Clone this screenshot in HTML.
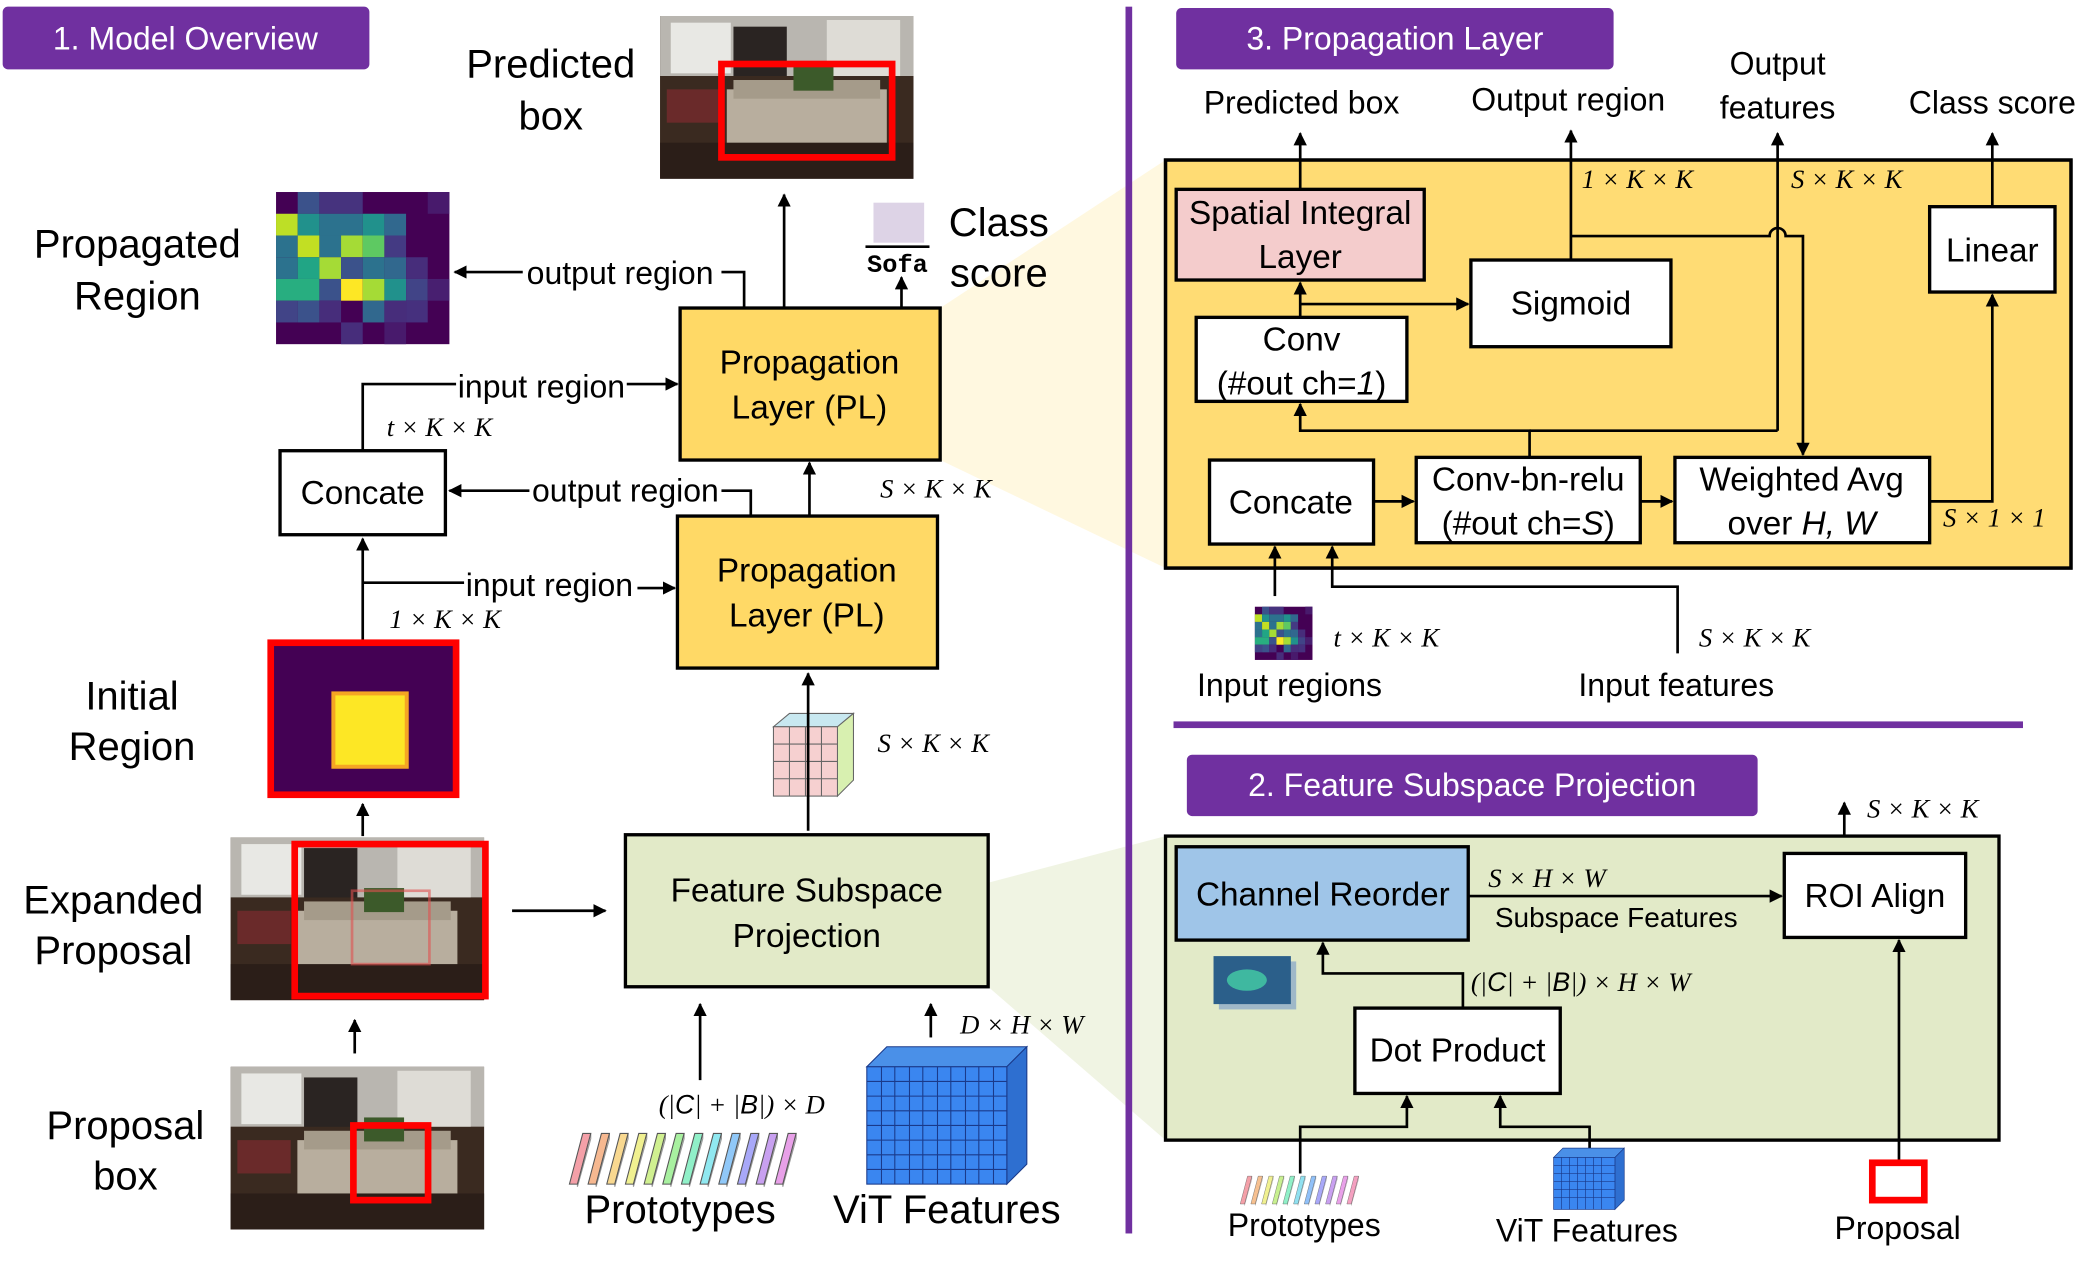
<!DOCTYPE html>
<html><head><meta charset="utf-8"><style>
html,body{margin:0;padding:0;background:#fff;}
svg{display:block;}
text{font-family:"Liberation Sans",Arial,sans-serif;fill:#000;}
.m{font-family:"Liberation Serif",serif;font-style:italic;font-size:20px;}
.b{font-size:25px;text-anchor:middle;}
.L{font-size:30px;text-anchor:middle;}
.s{font-size:24px;}
.w{fill:#fff;font-size:24px;text-anchor:middle;}
</style></head><body>
<svg width="2091" height="1278" viewBox="0 0 1568 958.4" preserveAspectRatio="none" xmlns="http://www.w3.org/2000/svg">
<defs>
<marker id="a" viewBox="0 0 10 10" refX="9" refY="5" markerWidth="5" markerHeight="5" orient="auto"><path d="M0,0 L10,5 L0,10 z" fill="#000"/></marker>
<g id="hm">
<rect width="8" height="7" fill="#440154"/>
<rect x="1" y="0" width="1" height="1" fill="#3b528b"/><rect x="2" y="0" width="2" height="1" fill="#46337e"/><rect x="7" y="0" width="1" height="1" fill="#481a6c"/>
<rect x="0" y="1" width="1" height="1" fill="#bddf26"/><rect x="1" y="1" width="1" height="1" fill="#21918c"/><rect x="2" y="1" width="2" height="1" fill="#2c728e"/><rect x="4" y="1" width="1" height="1" fill="#21918c"/><rect x="5" y="1" width="1" height="1" fill="#31688e"/>
<rect x="0" y="2" width="1" height="1" fill="#2c728e"/><rect x="1" y="2" width="1" height="1" fill="#c2df23"/><rect x="2" y="2" width="1" height="1" fill="#2c728e"/><rect x="3" y="2" width="1" height="1" fill="#a5db36"/><rect x="4" y="2" width="1" height="1" fill="#5ec962"/><rect x="5" y="2" width="1" height="1" fill="#443a83"/>
<rect x="0" y="3" width="1" height="1" fill="#2c728e"/><rect x="1" y="3" width="1" height="1" fill="#21a585"/><rect x="2" y="3" width="1" height="1" fill="#a5db36"/><rect x="3" y="3" width="1" height="1" fill="#3b528b"/><rect x="4" y="3" width="1" height="1" fill="#2c728e"/><rect x="5" y="3" width="1" height="1" fill="#31688e"/><rect x="6" y="3" width="1" height="1" fill="#472d7b"/>
<rect x="0" y="4" width="2" height="1" fill="#28ae80"/><rect x="2" y="4" width="1" height="1" fill="#3b528b"/><rect x="3" y="4" width="1" height="1" fill="#fde725"/><rect x="4" y="4" width="1" height="1" fill="#a5db36"/><rect x="5" y="4" width="1" height="1" fill="#21918c"/><rect x="6" y="4" width="1" height="1" fill="#414487"/><rect x="7" y="4" width="1" height="1" fill="#481f70"/>
<rect x="0" y="5" width="1" height="1" fill="#414487"/><rect x="1" y="5" width="1" height="1" fill="#3b528b"/><rect x="2" y="5" width="1" height="1" fill="#472d7b"/><rect x="4" y="5" width="1" height="1" fill="#31688e"/><rect x="5" y="5" width="1" height="1" fill="#472d7b"/><rect x="6" y="5" width="1" height="1" fill="#46307e"/>
<rect x="3" y="6" width="1" height="1" fill="#472d7b"/><rect x="5" y="6" width="1" height="1" fill="#481a6c"/>
</g>
<g id="room">
<rect width="190" height="122" fill="#4a3a30"/>
<rect x="0" y="0" width="190" height="45" fill="#b9b6b0"/>
<rect x="8" y="5" width="45" height="38" fill="#e8e8e4"/>
<rect x="125" y="3" width="55" height="48" fill="#dedcd6"/>
<rect x="55" y="8" width="40" height="45" fill="#2a2422"/>
<rect x="0" y="45" width="190" height="77" fill="#3a2a20"/>
<rect x="50" y="55" width="120" height="45" fill="#b8ae9e"/>
<rect x="55" y="48" width="110" height="14" fill="#a59b8a"/>
<rect x="5" y="55" width="40" height="25" fill="#6a2a2a"/>
<rect x="0" y="95" width="190" height="27" fill="#2b1e18"/>
<rect x="100" y="38" width="30" height="18" fill="#3c5a2a"/>
</g>
<g id="bar"><polygon points="0,38 10,0 16,0 6,38" /><polygon points="6,38 16,0 16,4 6,40" opacity="0.6"/></g>
</defs>

<!-- fans -->
<polygon points="705,231 874,120 874,426 705,345" fill="#fff6d8" opacity="0.8"/>
<polygon points="741,662 874,627 874,855 741,740" fill="#eef3e0" opacity="0.9"/>

<!-- section headers -->
<rect x="2" y="5" width="275" height="47" rx="4" fill="#7030a0"/>
<text x="139" y="37" class="w">1. Model Overview</text>
<rect x="844" y="5" width="5" height="920" fill="#7030a0"/>
<rect x="882" y="6" width="328" height="46" rx="4" fill="#7030a0"/>
<text x="1046" y="37" class="w">3. Propagation Layer</text>
<rect x="880" y="541" width="637" height="5" fill="#7030a0"/>
<rect x="890" y="566" width="428" height="46" rx="4" fill="#7030a0"/>
<text x="1104" y="597" class="w">2. Feature Subspace Projection</text>

<!-- LEFT -->
<use href="#room" x="495" y="12"/>
<rect x="541" y="48" width="128" height="70" fill="none" stroke="#f00" stroke-width="5"/>
<text x="413" y="58" class="L">Predicted</text><text x="413" y="97" class="L">box</text>

<use href="#hm" transform="translate(207,144) scale(16.25,16.3)"/>
<text x="103" y="193" class="L">Propagated</text><text x="103" y="232" class="L">Region</text>

<polyline points="558,231 558,204 541,204" fill="none" stroke="#000" stroke-width="2"/>
<line x1="392" y1="204" x2="341" y2="204" stroke="#000" stroke-width="2" marker-end="url(#a)"/>
<text x="465" y="213" class="s" text-anchor="middle">output region</text>

<rect x="655" y="152" width="38" height="30" fill="#ddd3e6"/>
<line x1="649" y1="185" x2="697" y2="185" stroke="#000" stroke-width="2"/>
<text x="673" y="204" font-size="19" font-weight="bold" text-anchor="middle" style="font-family:'Liberation Mono',monospace">Sofa</text>
<line x1="676" y1="231" x2="676" y2="208" stroke="#000" stroke-width="2" marker-end="url(#a)"/>
<text x="749" y="177" class="L">Class</text><text x="749" y="215" class="L">score</text>
<line x1="588" y1="231" x2="588" y2="146" stroke="#000" stroke-width="2" marker-end="url(#a)"/>

<rect x="510" y="231" width="195" height="114" fill="#ffd966" stroke="#000" stroke-width="2.5"/>
<text x="607" y="280" class="b">Propagation</text><text x="607" y="314" class="b">Layer (PL)</text>
<rect x="508" y="387" width="195" height="114" fill="#ffd966" stroke="#000" stroke-width="2.5"/>
<text x="605" y="436" class="b">Propagation</text><text x="605" y="470" class="b">Layer (PL)</text>
<line x1="607" y1="387" x2="607" y2="347" stroke="#000" stroke-width="2" marker-end="url(#a)"/>
<text x="660" y="373" class="m">S × K × K</text>

<rect x="210" y="338" width="124" height="63" fill="#fff" stroke="#000" stroke-width="2.5"/>
<text x="272" y="378" class="b">Concate</text>
<polyline points="272,338 272,288 342,288" fill="none" stroke="#000" stroke-width="2"/>
<line x1="470" y1="288" x2="508" y2="288" stroke="#000" stroke-width="2" marker-end="url(#a)"/>
<text x="406" y="298" class="s" text-anchor="middle">input region</text>
<text x="290" y="327" class="m">t × K × K</text>

<polyline points="563,387 563,368 541,368" fill="none" stroke="#000" stroke-width="2"/>
<line x1="397" y1="368" x2="337" y2="368" stroke="#000" stroke-width="2" marker-end="url(#a)"/>
<text x="469" y="376" class="s" text-anchor="middle">output region</text>

<line x1="272" y1="482" x2="272" y2="404" stroke="#000" stroke-width="2" marker-end="url(#a)"/>
<line x1="272" y1="437" x2="348" y2="437" stroke="#000" stroke-width="2"/>
<line x1="478" y1="441" x2="506" y2="441" stroke="#000" stroke-width="2" marker-end="url(#a)"/>
<text x="412" y="447" class="s" text-anchor="middle">input region</text>
<text x="292" y="471" class="m">1 × K × K</text>

<rect x="203" y="482" width="139" height="114" fill="#440154" stroke="#f00" stroke-width="5"/>
<rect x="250" y="520" width="55" height="55" fill="#fde725" stroke="#f5a623" stroke-width="3"/>
<text x="99" y="532" class="L">Initial</text><text x="99" y="570" class="L">Region</text>
<line x1="272" y1="627" x2="272" y2="603" stroke="#000" stroke-width="2" marker-end="url(#a)"/>

<use href="#room" x="173" y="628"/>
<rect x="264" y="668" width="58" height="55" fill="none" stroke="#e05050" stroke-width="2" opacity="0.6"/>
<rect x="221" y="633" width="143" height="114" fill="none" stroke="#f00" stroke-width="5"/>
<text x="85" y="685" class="L">Expanded</text><text x="85" y="723" class="L">Proposal</text>
<line x1="384" y1="683" x2="454" y2="683" stroke="#000" stroke-width="2" marker-end="url(#a)"/>
<line x1="266" y1="790" x2="266" y2="765" stroke="#000" stroke-width="2" marker-end="url(#a)"/>

<use href="#room" x="173" y="800"/>
<rect x="265" y="844" width="56" height="56" fill="none" stroke="#f00" stroke-width="5"/>
<text x="94" y="854" class="L">Proposal</text><text x="94" y="892" class="L">box</text>

<!-- small cube -->
<g stroke="#666" stroke-width="0.8">
<polygon points="580,545 592,535 640,535 628,545" fill="#c8e8f0"/>
<polygon points="628,545 640,535 640,585 628,597" fill="#d8f0b0"/>
<rect x="580" y="545" width="48" height="52" fill="#f6d0d0"/>
<path d="M592,545V597M604,545V597M616,545V597M580,558H628M580,571H628M580,584H628" fill="none"/>
</g>
<line x1="606" y1="623" x2="606" y2="505" stroke="#000" stroke-width="2" marker-end="url(#a)"/>
<text x="658" y="564" class="m">S × K × K</text>

<rect x="469" y="626" width="272" height="114" fill="#e2eac8" stroke="#000" stroke-width="2.5"/>
<text x="605" y="676" class="b">Feature Subspace</text><text x="605" y="710" class="b">Projection</text>
<line x1="525" y1="810" x2="525" y2="753" stroke="#000" stroke-width="2" marker-end="url(#a)"/>
<line x1="698" y1="778" x2="698" y2="753" stroke="#000" stroke-width="2" marker-end="url(#a)"/>
<text x="720" y="775" class="m">D × H × W</text>
<text x="494" y="835" class="m">(|<tspan font-family="Liberation Sans">C</tspan>| + |<tspan font-family="Liberation Sans">B</tspan>|) × D</text>

<!-- prototypes bars -->
<g stroke="#555" stroke-width="0.8">
<use href="#bar" x="427" y="850" fill="#f4a0a8"/><use href="#bar" x="441" y="850" fill="#f6b890"/><use href="#bar" x="455" y="850" fill="#f8d890"/><use href="#bar" x="469" y="850" fill="#f0f090"/><use href="#bar" x="483" y="850" fill="#d0f090"/><use href="#bar" x="497" y="850" fill="#a8f0a0"/><use href="#bar" x="511" y="850" fill="#90f0c8"/><use href="#bar" x="525" y="850" fill="#90e8f0"/><use href="#bar" x="539" y="850" fill="#90c8f8"/><use href="#bar" x="553" y="850" fill="#a8a8f8"/><use href="#bar" x="567" y="850" fill="#c8a0f0"/><use href="#bar" x="581" y="850" fill="#e8a0e8"/>
</g>
<text x="510" y="917" class="L">Prototypes</text>
<!-- ViT cube -->
<g stroke="#1a3a8a" stroke-width="0.8">
<polygon points="650,800 665,785 770,785 755,800" fill="#4a90e8"/>
<polygon points="755,800 770,785 770,873 755,888" fill="#2e6fd0"/>
<rect x="650" y="800" width="105" height="88" fill="#3a86f0"/>
<path d="M661,800V888M671,800V888M682,800V888M692,800V888M703,800V888M713,800V888M724,800V888M734,800V888M745,800V888M650,811H755M650,822H755M650,833H755M650,844H755M650,855H755M650,866H755M650,877H755" fill="none"/>
</g>
<text x="710" y="917" class="L">ViT Features</text>

<!-- PANEL 3 -->
<line x1="975" y1="142" x2="975" y2="100" stroke="#000" stroke-width="2" marker-end="url(#a)"/>
<line x1="1178" y1="196" x2="1178" y2="98" stroke="#000" stroke-width="2" marker-end="url(#a)"/>
<line x1="1333" y1="323" x2="1333" y2="100" stroke="#000" stroke-width="2" marker-end="url(#a)"/>
<line x1="1494" y1="155" x2="1494" y2="100" stroke="#000" stroke-width="2" marker-end="url(#a)"/>
<rect x="874" y="120" width="679" height="306" fill="#ffd966" opacity="0.9" stroke="#000" stroke-width="2.5"/>
<rect x="874" y="120" width="679" height="306" fill="none" stroke="#000" stroke-width="2.5"/>
<line x1="975" y1="120" x2="975" y2="142" stroke="#000" stroke-width="2"/>
<line x1="1178" y1="120" x2="1178" y2="196" stroke="#000" stroke-width="2"/>
<line x1="1333" y1="120" x2="1333" y2="323" stroke="#000" stroke-width="2"/>
<line x1="1494" y1="120" x2="1494" y2="155" stroke="#000" stroke-width="2"/>
<text x="976" y="85" class="s" text-anchor="middle">Predicted box</text>
<text x="1176" y="83" class="s" text-anchor="middle">Output region</text>
<text x="1333" y="56" class="s" text-anchor="middle">Output</text><text x="1333" y="89" class="s" text-anchor="middle">features</text>
<text x="1494" y="85" class="s" text-anchor="middle">Class score</text>
<text x="1186" y="141" class="m">1 × K × K</text>
<text x="1343" y="141" class="m">S × K × K</text>

<rect x="882" y="142" width="186" height="68" fill="#f4cccc" stroke="#000" stroke-width="2.5"/>
<text x="975" y="168" class="b">Spatial Integral</text><text x="975" y="201" class="b">Layer</text>
<rect x="1103" y="195" width="150" height="65" fill="#fff" stroke="#000" stroke-width="2.5"/>
<text x="1178" y="236" class="b">Sigmoid</text>
<rect x="897" y="238" width="158" height="63" fill="#fff" stroke="#000" stroke-width="2.5"/>
<text x="976" y="263" class="b">Conv</text><text x="976" y="296" class="b">(#out ch=<tspan font-style="italic">1</tspan>)</text>
<rect x="1447" y="155" width="94" height="64" fill="#fff" stroke="#000" stroke-width="2.5"/>
<text x="1494" y="196" class="b">Linear</text>
<rect x="907" y="345" width="123" height="63" fill="#fff" stroke="#000" stroke-width="2.5"/>
<text x="968" y="385" class="b">Concate</text>
<rect x="1062" y="343" width="168" height="64" fill="#fff" stroke="#000" stroke-width="2.5"/>
<text x="1146" y="368" class="b">Conv-bn-relu</text><text x="1146" y="401" class="b">(#out ch=<tspan font-style="italic">S</tspan>)</text>
<rect x="1256" y="343" width="191" height="64" fill="#fff" stroke="#000" stroke-width="2.5"/>
<text x="1351" y="368" class="b">Weighted Avg</text><text x="1351" y="401" class="b">over <tspan font-style="italic">H, W</tspan></text>

<line x1="975" y1="238" x2="975" y2="212" stroke="#000" stroke-width="2" marker-end="url(#a)"/>
<line x1="975" y1="228" x2="1101" y2="228" stroke="#000" stroke-width="2" marker-end="url(#a)"/>
<path d="M1178,177 H1327 A6,6 0 0 1 1339,177 H1352 V341" fill="none" stroke="#000" stroke-width="2" marker-end="url(#a)"/>
<polyline points="1147,343 1147,323 975,323 975,303" fill="none" stroke="#000" stroke-width="2" marker-end="url(#a)"/>
<line x1="1147" y1="323" x2="1333" y2="323" stroke="#000" stroke-width="2"/>
<line x1="1030" y1="376" x2="1060" y2="376" stroke="#000" stroke-width="2" marker-end="url(#a)"/>
<line x1="1230" y1="376" x2="1254" y2="376" stroke="#000" stroke-width="2" marker-end="url(#a)"/>
<polyline points="1447,376 1494,376 1494,221" fill="none" stroke="#000" stroke-width="2" marker-end="url(#a)"/>
<text x="1457" y="395" class="m">S × 1 × 1</text>

<line x1="956" y1="447" x2="956" y2="410" stroke="#000" stroke-width="2" marker-end="url(#a)"/>
<polyline points="1258,490 1258,440 999,440 999,410" fill="none" stroke="#000" stroke-width="2" marker-end="url(#a)"/>
<use href="#hm" transform="translate(941,455) scale(5.4,5.7)"/>
<text x="1000" y="485" class="m">t × K × K</text>
<text x="1274" y="485" class="m">S × K × K</text>
<text x="967" y="522" class="s" text-anchor="middle">Input regions</text>
<text x="1257" y="522" class="s" text-anchor="middle">Input features</text>

<!-- PANEL 2 -->
<line x1="1383" y1="640" x2="1383" y2="602" stroke="#000" stroke-width="2" marker-end="url(#a)"/>
<text x="1400" y="613" class="m">S × K × K</text>
<rect x="874" y="627" width="625" height="228" fill="#e2eac8" stroke="#000" stroke-width="2.5"/>
<rect x="882" y="635" width="219" height="70" fill="#9fc5e8" stroke="#000" stroke-width="2.5"/>
<text x="992" y="679" class="b">Channel Reorder</text>
<rect x="1338" y="640" width="136" height="63" fill="#fff" stroke="#000" stroke-width="2.5"/>
<text x="1406" y="680" class="b">ROI Align</text>
<rect x="1016" y="756" width="154" height="64" fill="#fff" stroke="#000" stroke-width="2.5"/>
<text x="1093" y="796" class="b">Dot Product</text>
<line x1="1101" y1="672" x2="1336" y2="672" stroke="#000" stroke-width="2" marker-end="url(#a)"/>
<text x="1116" y="665" class="m">S × H × W</text>
<text x="1212" y="695" font-size="21" text-anchor="middle">Subspace Features</text>
<polyline points="1097,756 1097,730 992,730 992,707" fill="none" stroke="#000" stroke-width="2" marker-end="url(#a)"/>
<text x="1103" y="743" class="m">(|<tspan font-family="Liberation Sans">C</tspan>| + |<tspan font-family="Liberation Sans">B</tspan>|) × H × W</text>
<rect x="914" y="721" width="58" height="36" fill="#9fb8c8"/>
<rect x="910" y="717" width="58" height="36" fill="#2b5f8a"/>
<ellipse cx="935" cy="735" rx="15" ry="8" fill="#3fb8a0"/>
<polyline points="975,880 975,845 1055,845 1055,822" fill="none" stroke="#000" stroke-width="2" marker-end="url(#a)"/>
<polyline points="1192,862 1192,845 1125,845 1125,822" fill="none" stroke="#000" stroke-width="2" marker-end="url(#a)"/>
<line x1="1424" y1="870" x2="1424" y2="705" stroke="#000" stroke-width="2" marker-end="url(#a)"/>
<g stroke="#555" stroke-width="0.5">
<use href="#bar" transform="translate(930,882) scale(0.55,0.55)" fill="#f4a0a8"/><use href="#bar" transform="translate(938,882) scale(0.55,0.55)" fill="#f6c090"/><use href="#bar" transform="translate(946,882) scale(0.55,0.55)" fill="#f0f090"/><use href="#bar" transform="translate(954,882) scale(0.55,0.55)" fill="#c8f090"/><use href="#bar" transform="translate(962,882) scale(0.55,0.55)" fill="#90f0c8"/><use href="#bar" transform="translate(970,882) scale(0.55,0.55)" fill="#90e0f0"/><use href="#bar" transform="translate(978,882) scale(0.55,0.55)" fill="#90c0f8"/><use href="#bar" transform="translate(986,882) scale(0.55,0.55)" fill="#a8a8f8"/><use href="#bar" transform="translate(994,882) scale(0.55,0.55)" fill="#c8a0f0"/><use href="#bar" transform="translate(1002,882) scale(0.55,0.55)" fill="#e8a0e8"/><use href="#bar" transform="translate(1010,882) scale(0.55,0.55)" fill="#f4a0c0"/>
</g>
<g stroke="#1a3a8a" stroke-width="0.5">
<polygon points="1165,868 1172,861 1218,861 1211,868" fill="#4a90e8"/>
<polygon points="1211,868 1218,861 1218,900 1211,907" fill="#2e6fd0"/>
<rect x="1165" y="868" width="46" height="39" fill="#3a86f0"/>
<path d="M1171,868V907M1177,868V907M1183,868V907M1189,868V907M1195,868V907M1201,868V907M1165,874H1211M1165,880H1211M1165,886H1211M1165,892H1211M1165,898H1211" fill="none"/>
</g>
<rect x="1404" y="872" width="39" height="28" fill="none" stroke="#f00" stroke-width="5"/>
<text x="978" y="927" class="s" text-anchor="middle">Prototypes</text>
<text x="1190" y="931" class="s" text-anchor="middle">ViT Features</text>
<text x="1423" y="929" class="s" text-anchor="middle">Proposal</text>
</svg>
</body></html>
